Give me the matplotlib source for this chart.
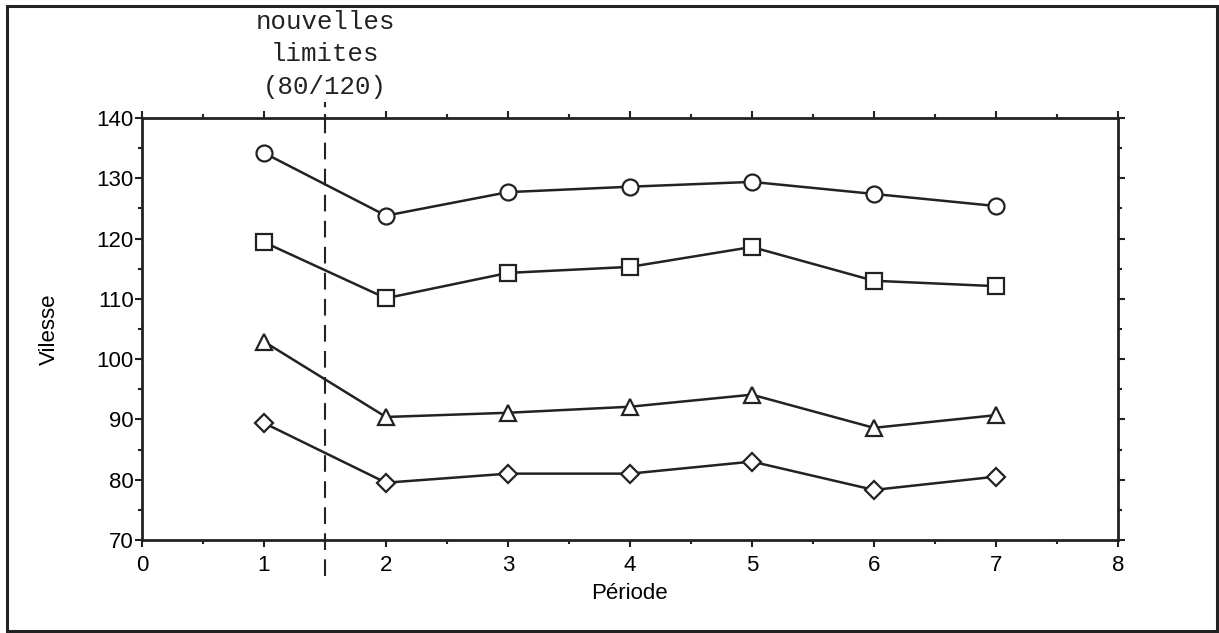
import matplotlib.pyplot as plt
from matplotlib.patches import Rectangle
from matplotlib.ticker import MultipleLocator

periode = [1, 2, 3, 4, 5, 6, 7]
v_cercle = [134.2, 123.8, 127.7, 128.6, 129.4, 127.4, 125.4]
v_carre = [119.4, 110.1, 114.3, 115.3, 118.6, 113.0, 112.1]
v_triangle = [102.9, 90.4, 91.1, 92.1, 94.1, 88.6, 90.7]
v_losange = [89.4, 79.5, 81.0, 81.0, 83.0, 78.3, 80.5]
x_limites = 1.5

plt.rcParams.update({
    'font.family': 'Liberation Sans',
    'font.size': 15,
})

fig = plt.figure(figsize=(12.19, 6.33), dpi=100)
ax = fig.add_axes([0.1165, 0.147, 0.8005, 0.6666])

style = dict(color='#222222', lw=1.8, mfc='white', mec='#222222', mew=1.6, clip_on=False)
ax.plot(periode, v_cercle, marker='o', ms=11.5, **style)
ax.plot(periode, v_carre, marker='s', ms=11.5, **style)
ax.plot(periode, v_triangle, marker='^', ms=12, **style)
ax.plot(periode, v_losange, marker='D', ms=9, **style)

ax.axvline(x_limites, ymin=-0.085, ymax=1.038, clip_on=False, color='#222222',
           lw=1.5, linestyle=(0, (8, 4.5)))

ax.set_xlim(0, 8)
ax.set_ylim(70, 140)
ax.xaxis.set_major_locator(MultipleLocator(1))
ax.xaxis.set_minor_locator(MultipleLocator(0.5))
ax.yaxis.set_major_locator(MultipleLocator(10))
ax.yaxis.set_minor_locator(MultipleLocator(5))
ax.tick_params(which='both', direction='out', top=True, right=True,
               labeltop=False, labelright=False, color='#222222', width=1.5)
ax.tick_params(which='major', length=5)
ax.tick_params(which='minor', length=3)
ax.tick_params(axis='y', pad=1, labelsize=16)
ax.tick_params(axis='x', pad=6, labelsize=16)
for s in ax.spines.values():
    s.set_linewidth(2)
    s.set_color('#222222')

ax.set_xlabel('Période', fontsize=16, labelpad=5)
ax.set_ylabel('Vilesse', fontsize=16, labelpad=26)

ax.text(x_limites, 1.045, 'nouvelles\nlimites\n(80/120)', transform=ax.get_xaxis_transform(),
        ha='center', va='bottom', family='Liberation Mono', fontsize=18.5,
        linespacing=1.45, color='#222222')

fig.patches.append(Rectangle((0.006, 0.003), 0.992, 0.987, transform=fig.transFigure,
                             fill=False, lw=2.2, ec='#222222'))

plt.savefig('out.png', dpi=100)
